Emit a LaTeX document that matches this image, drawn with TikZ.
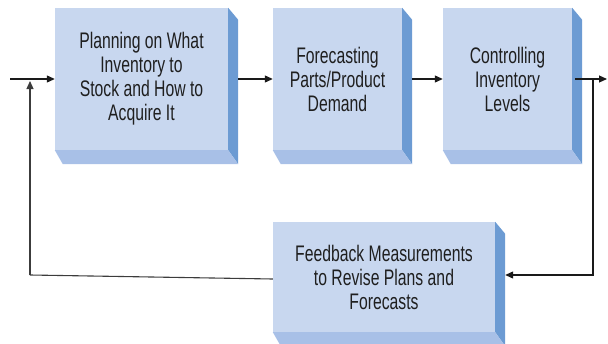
\documentclass[tikz,border=0pt]{standalone}
\usepackage{fontspec}
\newfontfamily\boxfont{Liberation Sans}[FakeStretch=0.70]
\usetikzlibrary{arrows.meta}
\definecolor{faceFront}{HTML}{C8D7EF}
\definecolor{faceSide}{HTML}{6C9BD3}
\definecolor{faceBottom}{HTML}{A8C0E7}
\definecolor{flowLine}{HTML}{1A1A1A}
\tikzset{
  blockbox/.style={rectangle, fill=faceFront, inner sep=0pt, align=center,
    font=\boxfont\fontsize{22.5}{24}\selectfont, text=black!88},
  flow/.style={draw=flowLine, line width=1.1pt, -{Triangle[length=8pt,width=7pt]}},
  plainflow/.style={draw=flowLine!85, line width=1.1pt},
}
% 3-D slab: darker right face and lighter bottom face next to the front node
\newcommand{\slab}[1]{%
  \fill[faceSide] (#1.north east) -- ++(10,12) -- ([shift={(10,14)}]#1.south east) -- (#1.south east) -- cycle;
  \fill[faceBottom] (#1.south west) -- (#1.south east) -- ++(10,14) -- ([shift={(8,14)}]#1.south west) -- cycle;
}
\begin{document}
\begin{tikzpicture}[x=1pt,y=-1pt]
\useasboundingbox (0,0) rectangle (608,343);

\node[blockbox, minimum width=173pt, minimum height=142pt] (plan) at (141.5,79)
  {Planning on What\\Inventory to\\Stock and How to\\Acquire It};
\node[blockbox, minimum width=129pt, minimum height=142pt] (fcst) at (337.5,79)
  {Forecasting\\Parts/Product\\Demand};
\node[blockbox, minimum width=129pt, minimum height=142pt] (ctrl) at (507.5,79)
  {Controlling\\Inventory\\Levels};
\node[blockbox, minimum width=222pt, minimum height=110pt] (fdbk) at (384,277)
  {Feedback Measurements\\to Revise Plans and\\Forecasts};

\slab{plan}
\slab{fcst}
\slab{ctrl}
\slab{fdbk}

% connectors
\coordinate (in) at (10,79);
\coordinate (out) at (607,79);
\coordinate (split) at (593,79);
\coordinate (splitlow) at (593,275);
\coordinate (ret) at (30,275);
\coordinate (join) at (30,81);

\draw[flow] (in) -- (plan.west);
\draw[flow] ([xshift=10pt]plan.east) -- (fcst.west);
\draw[flow] ([xshift=10pt]fcst.east) -- (ctrl.west);
\draw[flow] ([xshift=3pt]ctrl.east) -- (out);
\draw[flow] (split) -- (splitlow) -- ([shift={(10,-2)}]fdbk.east);
\draw[plainflow] ([yshift=-2pt]fdbk.west) -- (ret);
\draw[flow, draw=flowLine!85] (ret) -- (join);
\end{tikzpicture}
\end{document}
